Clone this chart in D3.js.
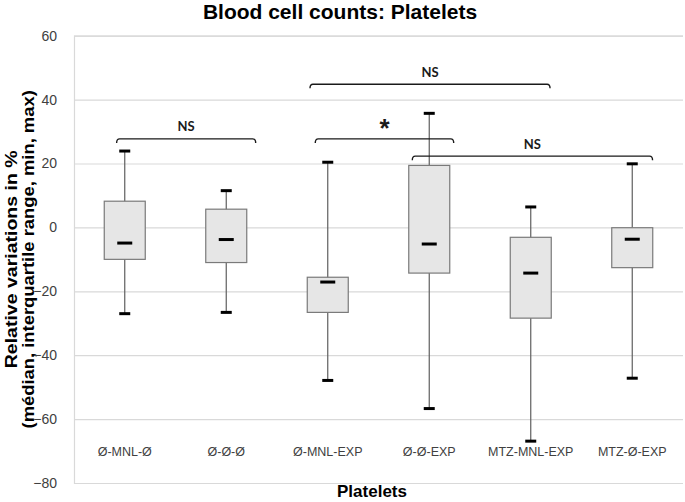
<!DOCTYPE html>
<html>
<head>
<meta charset="utf-8">
<script src="https://cdn.jsdelivr.net/npm/d3@7"></script>
<style>
  html, body { margin: 0; padding: 0; background: #fff; }
  svg { display: block; }
</style>
</head>
<body>
<div id="chart"></div>
<script>
// ---- Data ----
const categories = ["Ø-MNL-Ø", "Ø-Ø-Ø", "Ø-MNL-EXP", "Ø-Ø-EXP", "MTZ-MNL-EXP", "MTZ-Ø-EXP"];
const minValues    = [-27.0, -26.6, -47.9, -56.7, -66.9, -47.2];
const q1Values     = [-10.0, -11.0, -26.6, -14.3, -28.4, -12.6];
const medianValues = [-4.9,  -3.8,  -17.1, -5.2,  -14.3, -3.7];
const q3Values     = [8.2,   5.7,   -15.6, 19.4,  -3.1,  -0.1];
const maxValues    = [23.9,  11.5,  20.4,  35.7,  6.4,   19.9];
const yTicks = [60, 40, 20, 0, -20, -40, -60, -80];

// significance brackets (positions in category-index units, level in %)
const bracketLabels = ["NS", "NS", "*", "NS"];
const bracketStart  = [-0.08, 1.825, 1.877, 2.833];
const bracketEnd    = [1.29, 4.19, 3.241, 5.2];
const bracketLevel  = [27.7, 44.8, 27.7, 22.3];

const titleText = "Blood cell counts: Platelets";
const xTitle = "Platelets";
const yTitle1 = "Relative variations in %";
const yTitle2 = "(médian, interquartile range, min, max)";

// ---- Layout ----
const W = 685, H = 502;
const mLeft = 74, mRight = 683, mTop = 35.7, mBottom = 483;

const svg = d3.select("#chart").append("svg")
  .attr("width", W).attr("height", H)
  .style("font-family", "Arial, 'Liberation Sans', sans-serif");

const y = d3.scaleLinear().domain([-80, 60]).range([mBottom, mTop]);
const x = d3.scaleBand().domain(categories).range([mLeft, mRight]).paddingInner(0).paddingOuter(0);
const xi = d3.scaleLinear().domain([-0.5, categories.length - 0.5]).range([mLeft, mRight]);

// y-axis title: two rotated lines, slightly stretched along their length like the reference
const yMid = (mTop + mBottom) / 2;
svg.append("g").attr("transform", `translate(17,${yMid}) rotate(-90) scale(1.22,1)`)
  .append("text").attr("x", 0).attr("y", 0)
  .attr("text-anchor", "middle")
  .style("font-size", "16px").style("font-weight", "bold")
  .attr("fill", "#000")
  .text(yTitle1);
svg.append("g").attr("transform", `translate(33.5,${yMid}) rotate(-90) scale(1.15,1)`)
  .append("text").attr("x", 0).attr("y", 0)
  .attr("text-anchor", "middle")
  .style("font-size", "16px").style("font-weight", "bold")
  .attr("fill", "#000")
  .text(yTitle2);

// gridlines + tick labels
const yAxis = d3.axisLeft(y).tickValues(yTicks).tickSize(-(mRight - mLeft)).tickFormat(d3.format("d"));
const gAxis = svg.append("g").attr("transform", `translate(${mLeft},0)`).call(yAxis);
gAxis.select(".domain").attr("stroke", "#d9d9d9").attr("stroke-width", 1.2);
gAxis.selectAll(".tick line").attr("stroke", "#d9d9d9").attr("stroke-width", 1.2);
gAxis.selectAll(".tick text")
  .attr("x", -17)
  .attr("fill", "#404040")
  .style("font-size", "14px")
  .style("font-family", "Arial, 'Liberation Sans', sans-serif");

// category labels (inside plot near the bottom)
const xAxis = d3.axisBottom(x).tickSize(0);
const gx = svg.append("g").attr("transform", `translate(0,${y(-70.2)})`).call(xAxis);
gx.select(".domain").remove();
gx.selectAll(".tick text")
  .attr("y", 0).attr("dy", "0.35em")
  .attr("fill", "#404040")
  .style("font-size", "12.5px")
  .style("font-family", "Arial, 'Liberation Sans', sans-serif");

// boxes
const data = categories.map((c, i) => ({
  c, min: minValues[i], q1: q1Values[i], med: medianValues[i], q3: q3Values[i], max: maxValues[i]
}));
const boxW = 41, capW = 11, medW = 15;
const g = svg.append("g");
const cx = d => x(d.c) + x.bandwidth() / 2;

g.selectAll("line.whisker").data(data).join("line")
  .attr("class", "whisker")
  .attr("x1", cx).attr("x2", cx)
  .attr("y1", d => y(d.max)).attr("y2", d => y(d.min))
  .attr("stroke", "#5f5f5f").attr("stroke-width", 1.2);

g.selectAll("rect.box").data(data).join("rect")
  .attr("class", "box")
  .attr("x", d => cx(d) - boxW / 2)
  .attr("width", boxW)
  .attr("y", d => y(d.q3))
  .attr("height", d => y(d.q1) - y(d.q3))
  .attr("fill", "#e6e6e6").attr("stroke", "#7a7a7a").attr("stroke-width", 1.2);

g.selectAll("line.capmax").data(data).join("line")
  .attr("class", "capmax")
  .attr("x1", d => cx(d) - capW / 2).attr("x2", d => cx(d) + capW / 2)
  .attr("y1", d => y(d.max)).attr("y2", d => y(d.max))
  .attr("stroke", "#000").attr("stroke-width", 3);
g.selectAll("line.capmin").data(data).join("line")
  .attr("class", "capmin")
  .attr("x1", d => cx(d) - capW / 2).attr("x2", d => cx(d) + capW / 2)
  .attr("y1", d => y(d.min)).attr("y2", d => y(d.min))
  .attr("stroke", "#000").attr("stroke-width", 3);
g.selectAll("line.median").data(data).join("line")
  .attr("class", "median")
  .attr("x1", d => cx(d) - medW / 2).attr("x2", d => cx(d) + medW / 2)
  .attr("y1", d => y(d.med)).attr("y2", d => y(d.med))
  .attr("stroke", "#000").attr("stroke-width", 3);

// brackets
const brackets = bracketLabels.map((l, i) => ({
  l, s: bracketStart[i], e: bracketEnd[i], v: bracketLevel[i]
}));
const gb = svg.append("g");
gb.selectAll("path").data(brackets).join("path")
  .attr("d", d => {
    const x1 = xi(d.s), x2 = xi(d.e), yy = y(d.v);
    return `M${x1},${yy + 4}Q${x1},${yy} ${x1 + 3},${yy}L${x2 - 3},${yy}Q${x2},${yy} ${x2},${yy + 4}`;
  })
  .attr("fill", "none").attr("stroke", "#1a1a1a").attr("stroke-width", 1.4);
gb.selectAll("text").data(brackets).join("text")
  .attr("x", d => (xi(d.s) + xi(d.e)) / 2)
  .attr("y", d => d.l === "*" ? y(d.v) - 2 : y(d.v) - 7.5)
  .attr("text-anchor", "middle")
  .attr("fill", "#1a1a1a")
  .style("font-family", d => d.l === "*" ? "Arial, 'Liberation Sans', sans-serif" : "Lato, 'Open Sans', sans-serif")
  .style("font-weight", "bold")
  .style("font-size", d => d.l === "*" ? "26px" : "13px")
  .text(d => d.l);

// titles
svg.append("text")
  .attr("x", 340).attr("y", 19.2)
  .attr("text-anchor", "middle")
  .style("font-size", "21px").style("font-weight", "bold")
  .attr("fill", "#000")
  .text(titleText);

svg.append("text")
  .attr("x", 372).attr("y", 497)
  .attr("text-anchor", "middle")
  .style("font-size", "17px").style("font-weight", "bold")
  .attr("fill", "#000")
  .text(xTitle);
</script>
</body>
</html>
